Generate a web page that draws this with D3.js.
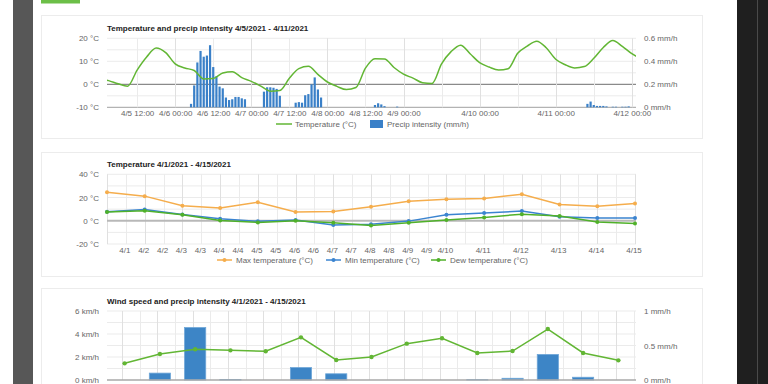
<!DOCTYPE html>
<html><head><meta charset="utf-8">
<script src="https://cdn.jsdelivr.net/npm/d3@7"></script>
<style>
body{margin:0;background:#fff;overflow:hidden}
svg{display:block;font-family:"Liberation Sans",Arial,sans-serif}
</style>
</head><body><svg width="768" height="384"></svg>
<script>
// ---------- DATA ----------
// Chart 1: hourly-ish temperature (every 3h from 4/5 00:00) and hourly precip
const tempStart = "4/5 00:00";
const tempStepHours = 3;
const temperature = [2.5, 1.6, 0.2, -0.8, 6.2, 11.9, 15.8, 13.8, 8.9, 7.1, 6.0, 2.3, 2.5, 4.9, 5.5, 2.9,
  1.3, -0.8, -3.0, -2.7, 2.6, 6.8, 7.8, 4.3, 1.0, -0.9, -2.3, -1.4, 7.0, 11.1, 11.0, 7.3,
  4.4, 2.7, 0.7, 0.4, 8.9, 14.2, 17.0, 13.3, 9.4, 7.5, 6.2, 6.8, 13.5, 16.6, 18.7, 15.9,
  10.9, 8.5, 7.1, 7.7, 11.3, 16.0, 19.0, 16.5, 13.3, 11.0];
const precipStarts = ["4/6 05:00", "4/7 04:00", "4/7 14:00", "4/8 15:00", "4/8 22:00", "4/11 10:00"];
const precipRuns = [
  [0.03, 0.19, 0.39, 0.49, 0.44, 0.45, 0.54, 0.35, 0.27, 0.18, 0.165, 0.085, 0.063, 0.07, 0.09, 0.09, 0.078, 0.07],
  [0.136, 0.174, 0.174, 0.17, 0.16, 0.10],
  [0.04, 0.045, 0.04, 0.105, 0.115, 0.2, 0.26, 0.155, 0.085],
  [0.02, 0.035, 0.025, 0.01],
  [0.006],
  [0.03, 0.05, 0.02, 0.012, 0.012, 0.012, 0.008, 0, 0.005, 0.005, 0, 0.005, 0.005, 0.008]
];
const chart1Ticks = ["4/5 12:00", "4/6 00:00", "4/6 12:00", "4/7 00:00", "4/7 12:00", "4/8 00:00",
  "4/8 12:00", "4/9 00:00", "4/10 00:00", "4/11 00:00", "4/12 00:00"];
const tempAxisTicks = [-10, 0, 10, 20];
const precipAxisTicks = [0, 0.2, 0.4, 0.6];

// Chart 2: daily temperatures
const days = ["4/1","4/2","4/3","4/4","4/5","4/6","4/7","4/8","4/9","4/10","4/11","4/12","4/13","4/14","4/15"];
const maxTemp = [24.6, 21.2, 12.9, 10.9, 16.0, 7.5, 8.0, 12.0, 16.9, 18.6, 19.2, 22.9, 14.0, 12.6, 14.9];
const minTemp = [7.7, 9.7, 5.4, 1.7, -0.5, 0.6, -3.7, -2.9, -0.3, 5.2, 6.6, 8.3, 3.5, 2.3, 2.3];
const dewTemp = [7.5, 8.6, 5.2, 0.3, -1.4, 0.0, -1.7, -4.0, -1.7, 0.6, 2.9, 5.7, 4.0, -1.1, -2.3];
const chart2Ticks = ["4/1 12:00","4/2 00:00","4/2 12:00","4/3 00:00","4/3 12:00","4/4 00:00","4/4 12:00",
  "4/5 00:00","4/5 12:00","4/6 00:00","4/6 12:00","4/7 00:00","4/7 12:00","4/8 00:00","4/8 12:00",
  "4/9 00:00","4/9 12:00","4/10 00:00","4/11 00:00","4/12 00:00","4/13 00:00","4/14 00:00","4/15 00:00"];
const chart2AxisTicks = [-20, 0, 20, 40];

// Chart 3: daily wind speed and precip intensity
const windSpeed = [1.45, 2.26, 2.67, 2.58, 2.5, 3.71, 1.74, 2.0, 3.16, 3.63, 2.35, 2.52, 4.43, 2.35, 1.71];
const precipDaily = [0, 0.1, 0.76, 0.006, 0, 0.18, 0.09, 0, 0, 0, 0.005, 0.025, 0.37, 0.04, 0];
const windAxisTicks = [0, 2, 4, 6];
const precipDailyTicks = [0, 0.5, 1];

// ---------- STYLE ----------
const C = {
  green: "#62b634", blue: "#3a80c8", orange: "#f5ad4c", minBlue: "#3b84d0", dew: "#50b12a",
  grid: "#ebebeb", gridDark: "#e0e0e0", text: "#666", title: "#222"
};
const svg = d3.select("svg");
const parse = s => d3.timeParse("%Y/%m/%d %H:%M")("2021/" + s);

// page frame
svg.append("rect").attr("x", 13).attr("y", 0).attr("width", 20).attr("height", 384).attr("fill", "#575757");
svg.append("rect").attr("x", 737).attr("y", 0).attr("width", 31).attr("height", 384).attr("fill", "#1f1f1f");
svg.append("line").attr("x1", 757.5).attr("x2", 757.5).attr("y1", 0).attr("y2", 384).attr("stroke", "#4a4a4a");
svg.append("rect").attr("x", 41).attr("y", 0).attr("width", 39).attr("height", 3.5).attr("fill", "#6cbf48");
[[15.5, 123], [152.5, 124], [288.5, 120]].forEach(([y, h]) => {
  svg.append("rect").attr("x", 41.5).attr("y", y).attr("width", 661).attr("height", h)
    .attr("fill", "#fff").attr("stroke", "#ececec");
});

function title(y, txt) {
  svg.append("text").attr("x", 107).attr("y", y).attr("font-size", 8).attr("font-weight", "bold")
    .attr("fill", C.title).text(txt);
}
function styleAxis(g) {
  g.select(".domain").remove();
  g.selectAll("text").attr("font-size", 8).attr("fill", C.text).attr("font-family", '"Liberation Sans",Arial,sans-serif');
}

// ---------- CHART 1 ----------
const L = 107, R = 635;
title(30.5, "Temperature and precip intensity 4/5/2021 - 4/11/2021");
const x1 = d3.scaleTime().domain([parse("4/5 02:30"), parse("4/12 01:00")]).range([L, R]);
const yT = d3.scaleLinear().domain([-10, 20]).range([107.3, 38.3]);
const yP = d3.scaleLinear().domain([0, 0.6]).range([107.3, 38.3]);
const g1 = svg.append("g");
// horizontal grid
d3.range(-10, 21, 5).forEach(v => {
  g1.append("line").attr("x1", L).attr("x2", R + 1).attr("y1", yT(v)).attr("y2", yT(v))
    .attr("stroke", v === 0 ? "#8a8a8a" : (v === -10 ? "#a0a0a0" : C.grid)).attr("stroke-width", v === 0 ? 1.2 : 1);
});
// vertical grid
d3.timeHour.every(12).range(parse("4/5 12:00"), parse("4/12 00:01")).forEach(d => {
  const xx = Math.round(x1(d)) + 0.5;
  g1.append("line").attr("x1", xx).attr("x2", xx).attr("y1", yT(20)).attr("y2", yT(-10))
    .attr("stroke", d.getHours() === 0 ? C.gridDark : C.grid);
});
svg.append("clipPath").attr("id", "c1").append("rect").attr("x", L).attr("y", 30).attr("width", R - L + 1).attr("height", 80);
// precip bars
precipStarts.forEach((s, i) => {
  const t0 = parse(s);
  precipRuns[i].forEach((v, j) => {
    if (v <= 0) return;
    const t = d3.timeHour.offset(t0, j);
    g1.append("rect").attr("x", x1(t) - 1.1).attr("width", 2.2)
      .attr("y", yP(v)).attr("height", yP(0) - yP(v)).attr("fill", C.blue);
  });
});
// temperature line
const t0 = parse(tempStart);
const tempPts = temperature.map((v, i) => [x1(d3.timeHour.offset(t0, i * tempStepHours)), yT(v)]);
g1.append("path").attr("clip-path", "url(#c1)").attr("d", d3.line().curve(d3.curveMonotoneX)(tempPts))
  .attr("fill", "none").attr("stroke", C.green).attr("stroke-width", 1.5);
// axes
styleAxis(svg.append("g").attr("transform", `translate(${L},0)`)
  .call(d3.axisLeft(yT).tickValues(tempAxisTicks).tickFormat(d => d + " °C").tickSize(0).tickPadding(8)));
styleAxis(svg.append("g").attr("transform", `translate(${R + 1},0)`)
  .call(d3.axisRight(yP).tickValues(precipAxisTicks).tickFormat(d => d + " mm/h").tickSize(0).tickPadding(8)));
styleAxis(svg.append("g").attr("transform", `translate(0,${yT(-10)})`)
  .call(d3.axisBottom(x1).tickValues(chart1Ticks.map(parse)).tickFormat(d3.timeFormat("%-m/%-d %H:%M")).tickSize(0).tickPadding(3)));
// legend
svg.append("line").attr("x1", 276).attr("x2", 292).attr("y1", 124).attr("y2", 124).attr("stroke", C.green).attr("stroke-width", 1.5);
svg.append("text").attr("x", 295).attr("y", 127).attr("font-size", 8).attr("fill", C.text).text("Temperature (°C)");
svg.append("rect").attr("x", 370).attr("y", 120).attr("width", 13).attr("height", 8).attr("fill", C.blue);
svg.append("text").attr("x", 387).attr("y", 127).attr("font-size", 8).attr("fill", C.text).text("Precip intensity (mm/h)");

// ---------- CHART 2 ----------
title(167, "Temperature 4/1/2021 - 4/15/2021");
const x2 = d3.scaleTime().domain([parse("4/1 00:00"), parse("4/15 00:00")]).range([L, R]);
const y2 = d3.scaleLinear().domain([-20, 40]).range([244, 174.3]);
const g2 = svg.append("g");
d3.range(-20, 41, 10).forEach(v => {
  if (v === 0) return;
  g2.append("line").attr("x1", L).attr("x2", R + 1).attr("y1", y2(v)).attr("y2", y2(v)).attr("stroke", C.grid);
});
d3.timeHour.every(12).range(parse("4/1 00:00"), parse("4/15 00:01")).forEach(d => {
  const xx = Math.round(x2(d)) + 0.5;
  g2.append("line").attr("x1", xx).attr("x2", xx).attr("y1", y2(40)).attr("y2", y2(-20))
    .attr("stroke", d.getHours() === 0 ? C.gridDark : C.grid);
});
g2.append("line").attr("x1", L).attr("x2", R + 1).attr("y1", y2(0)).attr("y2", y2(0)).attr("stroke", "#b8b8b8").attr("stroke-width", 2);
const dayDates = days.map(d => parse(d + " 00:00"));
[[maxTemp, C.orange], [minTemp, C.minBlue], [dewTemp, C.dew]].forEach(([arr, col]) => {
  const pts = arr.map((v, i) => [x2(dayDates[i]), y2(v)]);
  g2.append("path").attr("d", d3.line()(pts)).attr("fill", "none").attr("stroke", col).attr("stroke-width", 1.5);
  g2.selectAll(null).data(pts).join("circle").attr("cx", d => d[0]).attr("cy", d => d[1]).attr("r", 2).attr("fill", col);
});
styleAxis(svg.append("g").attr("transform", `translate(${L},0)`)
  .call(d3.axisLeft(y2).tickValues(chart2AxisTicks).tickFormat(d => d + " °C").tickSize(0).tickPadding(8)));
styleAxis(svg.append("g").attr("transform", `translate(-1.5,${y2(-20)})`)
  .call(d3.axisBottom(x2).tickValues(chart2Ticks.map(parse)).tickFormat(d3.timeFormat("%-m/%-d")).tickSize(0).tickPadding(3)));
[["Max temperature (°C)", C.orange, 217, 236], ["Min temperature (°C)", C.minBlue, 326, 345], ["Dew temperature (°C)", C.dew, 431, 450]]
  .forEach(([txt, col, lx, tx]) => {
    svg.append("line").attr("x1", lx).attr("x2", lx + 15).attr("y1", 260).attr("y2", 260).attr("stroke", col).attr("stroke-width", 1.5);
    svg.append("circle").attr("cx", lx + 7.5).attr("cy", 260).attr("r", 2).attr("fill", col);
    svg.append("text").attr("x", tx).attr("y", 263).attr("font-size", 8).attr("fill", C.text).text(txt);
  });

// ---------- CHART 3 ----------
title(303.5, "Wind speed and precip intensity 4/1/2021 - 4/15/2021");
const x3 = d3.scaleBand().domain(days).range([L, R + 1]).paddingInner(0.4).paddingOuter(0.2);
const yW = d3.scaleLinear().domain([0, 6]).range([380, 311]);
const yPD = d3.scaleLinear().domain([0, 1]).range([380, 311]);
const g3 = svg.append("g");
d3.range(1, 7).forEach(v => {
  g3.append("line").attr("x1", L).attr("x2", R + 1).attr("y1", yW(v)).attr("y2", yW(v)).attr("stroke", C.grid);
});
const step = x3.step();
d3.range(0, 30).forEach(k => {
  const xx = Math.round(L + step / 2 - 2.5 + k * step / 2) + 0.5;
  if (xx > R) return;
  g3.append("line").attr("x1", xx).attr("x2", xx).attr("y1", yW(6)).attr("y2", yW(0))
    .attr("stroke", k % 2 === 0 ? C.gridDark : C.grid);
});
g3.selectAll(null).data(days).join("rect")
  .attr("x", d => x3(d)).attr("width", x3.bandwidth())
  .attr("y", (d, i) => yPD(precipDaily[i])).attr("height", (d, i) => yPD(0) - yPD(precipDaily[i]))
  .attr("fill", "#3d85c6").attr("stroke", "#6ea6d8").attr("stroke-width", 0.8);
g3.append("line").attr("x1", L).attr("x2", R + 1).attr("y1", 380).attr("y2", 380).attr("stroke", "#a8a8a8").attr("stroke-width", 1.5);
const windPts = windSpeed.map((v, i) => [x3(days[i]) + x3.bandwidth() / 2, yW(v)]);
g3.append("path").attr("d", d3.line()(windPts)).attr("fill", "none").attr("stroke", C.green).attr("stroke-width", 1.5);
g3.selectAll(null).data(windPts).join("circle").attr("cx", d => d[0]).attr("cy", d => d[1]).attr("r", 2.2).attr("fill", C.green);
styleAxis(svg.append("g").attr("transform", `translate(${L},0)`)
  .call(d3.axisLeft(yW).tickValues(windAxisTicks).tickFormat(d => d + " km/h").tickSize(0).tickPadding(8)));
styleAxis(svg.append("g").attr("transform", `translate(${R + 1},0)`)
  .call(d3.axisRight(yPD).tickValues(precipDailyTicks).tickFormat(d => d + " mm/h").tickSize(0).tickPadding(8)));
</script>
</body></html>
